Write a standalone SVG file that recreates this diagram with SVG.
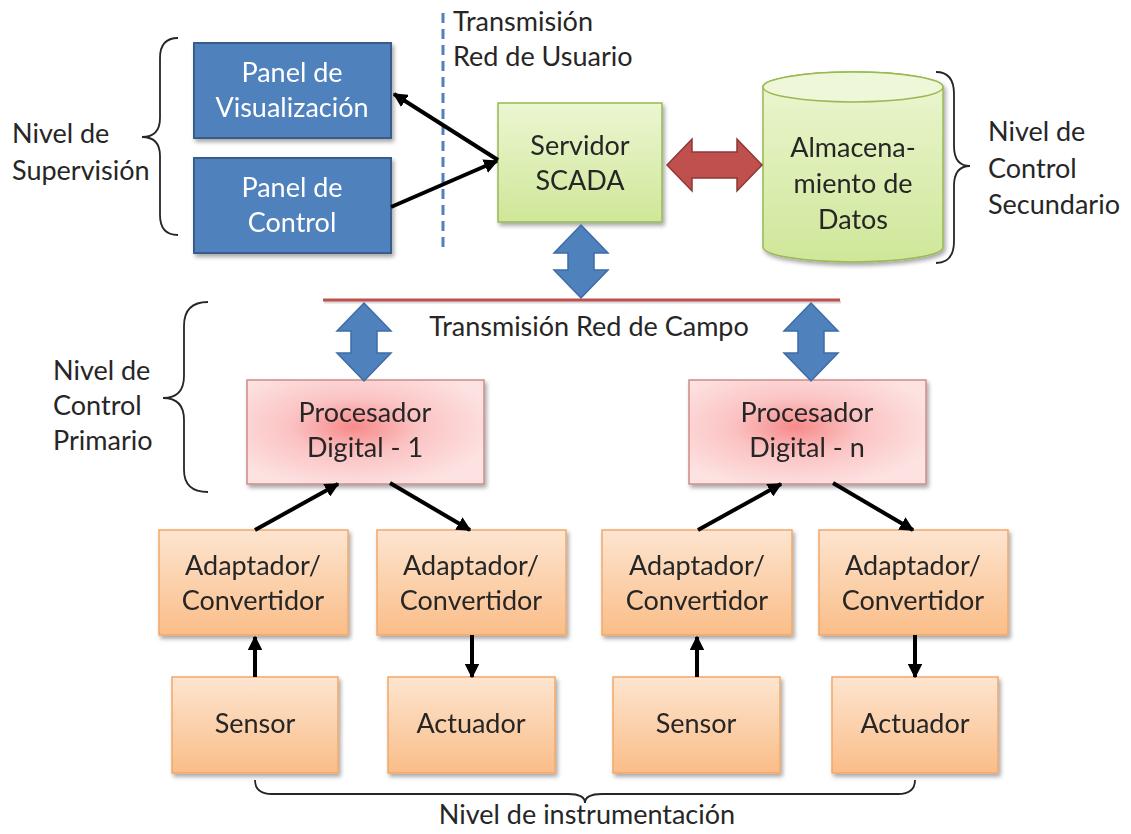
<svg xmlns="http://www.w3.org/2000/svg" width="1131" height="834" viewBox="0 0 1131 834">
<defs>
<style>
text{font-family:Lato,"Liberation Sans",sans-serif;font-size:27px;fill:#262626}
.c{text-anchor:middle}
.w{fill:#ffffff}
.blue{fill:#4f81bd;stroke:#385d8a;stroke-width:2}
.green{fill:url(#gGreen);stroke:#98b954;stroke-width:1.5}
.pink{fill:url(#gPink);stroke:#d08a88;stroke-width:1.5}
.orange{fill:url(#gOrange);stroke:#f2a86a;stroke-width:1.5}
.brace{fill:none;stroke:#262626;stroke-width:1.8}
.conn{stroke:#000;stroke-width:4;fill:none;marker-end:url(#ah)}
.barrow{fill:#4f81bd;stroke:#3d6ca6;stroke-width:1.5}
</style>
<linearGradient id="gGreen" x1="0" y1="0" x2="0" y2="1">
<stop offset="0" stop-color="#ecf6d2"/><stop offset="1" stop-color="#cfe799"/>
</linearGradient>
<radialGradient id="gPink" cx="0.45" cy="0.45" r="0.6">
<stop offset="0" stop-color="#f7898a"/><stop offset="0.45" stop-color="#fbc3c3"/><stop offset="1" stop-color="#fde2e2"/>
</radialGradient>
<linearGradient id="gOrange" x1="0" y1="0" x2="0" y2="1">
<stop offset="0" stop-color="#fde5d0"/><stop offset="1" stop-color="#fabd88"/>
</linearGradient>
<filter id="sh" x="-10%" y="-10%" width="125%" height="130%">
<feDropShadow dx="2" dy="3" stdDeviation="2" flood-color="#000" flood-opacity="0.35"/>
</filter>
<marker id="ah" viewBox="0 0 10 10" refX="9" refY="5" markerWidth="3.6" markerHeight="3.6" orient="auto" markerUnits="strokeWidth">
<path d="M0,0 L10,5 L0,10 Z" fill="#000"/>
</marker>
</defs>
<rect width="1131" height="834" fill="#fff"/>

<g id="labels">
<text x="12" y="143">Nivel de</text>
<text x="12" y="180">Supervisión</text>
<text x="988" y="141">Nivel de</text>
<text x="988" y="178">Control</text>
<text x="988" y="214">Secundario</text>
<text x="53" y="380">Nivel de</text>
<text x="53" y="415">Control</text>
<text x="53" y="450">Primario</text>
<text x="453" y="31">Transmisión</text>
<text x="453" y="66">Red de Usuario</text>
<text x="589" y="336" class="c">Transmisión Red de Campo</text>
<text x="587" y="824" class="c">Nivel de instrumentación</text>
</g>

<g id="braces">
<path class="brace" d="M178 38 Q160 38 160 58 L160 118 Q160 137 142 137 Q160 137 160 156 L160 215 Q160 235 178 235"/>
<path class="brace" d="M936 72 Q954 72 954 94 L954 146 Q954 166 970 166 Q954 166 954 186 L954 241 Q954 263 936 263"/>
<path class="brace" d="M208 302 Q184 302 184 326 L184 376 Q184 398 163 398 Q184 398 184 420 L184 470 Q184 492 208 492"/>
<path class="brace" d="M255 780 Q255 794 272 794 L568 794 Q585 794 585 803 Q585 794 602 794 L898 794 Q915 794 915 780"/>
</g>

<g id="net-lines">
<line x1="443" y1="13" x2="443" y2="248" stroke="#4f81bd" stroke-width="3" stroke-dasharray="10 6"/>
<line x1="324" y1="302" x2="841" y2="302" stroke="#000" stroke-opacity="0.15" stroke-width="3"/>
<line x1="323" y1="300" x2="840" y2="300" stroke="#c0504d" stroke-width="3"/>
</g>

<g id="panel-vis" filter="url(#sh)">
<rect class="blue" x="194" y="43" width="197" height="95"/>
<text class="c w" x="292" y="82">Panel de</text>
<text class="c w" x="292" y="117">Visualización</text>
</g>
<g id="panel-ctrl" filter="url(#sh)">
<rect class="blue" x="194" y="158" width="197" height="95"/>
<text class="c w" x="292" y="197">Panel de</text>
<text class="c w" x="292" y="232">Control</text>
</g>
<g id="servidor" filter="url(#sh)">
<rect class="green" x="498" y="103" width="164" height="119"/>
<text class="c" x="580" y="155">Servidor</text>
<text class="c" x="580" y="190">SCADA</text>
</g>
<g id="almacenamiento" filter="url(#sh)">
<path class="green" d="M763 87 A90 15 0 0 1 943 87 L943 247 A90 15 0 0 1 763 247 Z"/>
<ellipse cx="853" cy="87" rx="90" ry="15" fill="#eef7d8" stroke="#98b954" stroke-width="1.5"/>
<text class="c" x="853" y="157">Almacena-</text>
<text class="c" x="853" y="193">miento de</text>
<text class="c" x="853" y="229">Datos</text>
</g>
<g id="proc-1" filter="url(#sh)">
<rect class="pink" x="247" y="380" width="237" height="104"/>
<text class="c" x="365" y="422">Procesador</text>
<text class="c" x="365" y="457">Digital - 1</text>
</g>
<g id="proc-n" filter="url(#sh)">
<rect class="pink" x="689" y="380" width="237" height="104"/>
<text class="c" x="807" y="422">Procesador</text>
<text class="c" x="807" y="457">Digital - n</text>
</g>
<g id="adapt-1" filter="url(#sh)">
<rect class="orange" x="159" y="530" width="189" height="105"/>
<text class="c" x="253" y="575">Adaptador/</text>
<text class="c" x="253" y="610">Convertidor</text>
</g>
<g id="adapt-2" filter="url(#sh)">
<rect class="orange" x="377" y="530" width="189" height="105"/>
<text class="c" x="471" y="575">Adaptador/</text>
<text class="c" x="471" y="610">Convertidor</text>
</g>
<g id="adapt-3" filter="url(#sh)">
<rect class="orange" x="602" y="530" width="190" height="105"/>
<text class="c" x="697" y="575">Adaptador/</text>
<text class="c" x="697" y="610">Convertidor</text>
</g>
<g id="adapt-4" filter="url(#sh)">
<rect class="orange" x="819" y="530" width="189" height="105"/>
<text class="c" x="913" y="575">Adaptador/</text>
<text class="c" x="913" y="610">Convertidor</text>
</g>
<g id="sensor-1" filter="url(#sh)">
<rect class="orange" x="172" y="677" width="166" height="96"/>
<text class="c" x="255" y="733">Sensor</text>
</g>
<g id="actuador-1" filter="url(#sh)">
<rect class="orange" x="388" y="677" width="167" height="96"/>
<text class="c" x="471" y="733">Actuador</text>
</g>
<g id="sensor-2" filter="url(#sh)">
<rect class="orange" x="613" y="677" width="167" height="96"/>
<text class="c" x="696" y="733">Sensor</text>
</g>
<g id="actuador-2" filter="url(#sh)">
<rect class="orange" x="832" y="677" width="166" height="96"/>
<text class="c" x="915" y="733">Actuador</text>
</g>

<g id="connectors">
<line class="conn" x1="498" y1="160" x2="394" y2="94"/>
<line class="conn" x1="391" y1="207" x2="497" y2="161"/>
<polygon fill="#c0504d" stroke="#8c3836" stroke-width="1.5" points="667,165 692,139 692,152 737,152 737,139 762,165 737,191 737,178 692,178 692,191"/>
<polygon class="barrow" points="581,225 608,253 594,253 594,270 608,270 581,298 554,270 568,270 568,253 554,253"/>
<polygon class="barrow" points="364,303 391,331 377,331 377,353 391,353 364,381 337,353 351,353 351,331 337,331"/>
<polygon class="barrow" points="811,303 838,331 824,331 824,353 838,353 811,381 784,353 798,353 798,331 784,331"/>
<line class="conn" x1="255" y1="530" x2="338" y2="484"/>
<line class="conn" x1="390" y1="483" x2="470" y2="530"/>
<line class="conn" x1="698" y1="530" x2="781" y2="484"/>
<line class="conn" x1="833" y1="483" x2="913" y2="530"/>
<line class="conn" x1="255" y1="677" x2="255" y2="637"/>
<line class="conn" x1="472" y1="635" x2="472" y2="677"/>
<line class="conn" x1="697" y1="677" x2="697" y2="637"/>
<line class="conn" x1="915" y1="635" x2="915" y2="677"/>
</g>
</svg>
